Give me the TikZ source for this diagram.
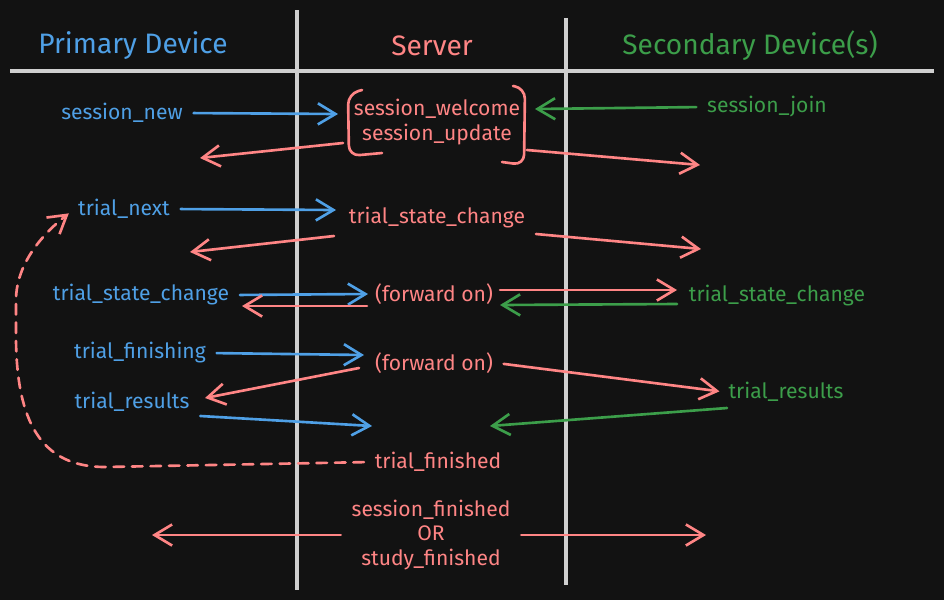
\documentclass[tikz,border=0pt]{standalone}
\usepackage{fontspec}
\setmainfont{Fira Sans}
\usetikzlibrary{arrows.meta, positioning}
\definecolor{bg}{HTML}{121212}
\definecolor{pblue}{HTML}{4FA0E6}
\definecolor{sred}{HTML}{FF8585}
\definecolor{sgreen}{HTML}{3C9E4A}
\definecolor{lane}{HTML}{CFCFCF}
\tikzset{
  msg/.style={font=\fontsize{12}{14.2}\selectfont, inner sep=2pt},
  head/.style={font=\fontsize{16}{19}\selectfont},
  sig/.style={line width=1.5pt, line cap=round,
    -{Straight Barb[length=10pt,width=12pt,line width=1.5pt]}},
  gap/.style={shorten <=4pt},
}
\begin{document}
\begin{tikzpicture}[x=0.02cm, y=-0.02cm]
  \fill[bg] (0,0) rectangle (944,600);
  \useasboundingbox (0,0) rectangle (944,600);

  % lanes
  \draw[lane, line width=2pt] (297,10) -- (297,590);
  \draw[lane, line width=2pt] (566,18) -- (566,585);
  \draw[lane, line width=2pt] (10,71) -- (934,71);
  \node[head, text=pblue]  (primary)   at (133,46) {Primary Device};
  \node[head, text=sred]   (server)    at (432,46) {Server};
  \node[head, text=sgreen] (secondary) at (750,46) {Secondary Device(s)};

  % messages
  \node[msg, text=pblue] (snew)     at (122,113) {session\_new};
  \node[msg, text=sred, align=center] (swelcome) at (437,122) {session\_welcome\\session\_update};
  \node[msg, text=sgreen] (sjoin)   at (767,107) {session\_join};
  \node[msg, text=pblue] (tnext)    at (124,209) {trial\_next};
  \node[msg, text=sred]  (tstate)   at (437,218) {trial\_state\_change};
  \node[msg, text=pblue] (pstate)   at (141,295) {trial\_state\_change};
  \node[msg, text=sred]  (fwdA)     at (434,294) {(forward on)};
  \node[msg, text=sgreen] (sstate)  at (777,296) {trial\_state\_change};
  \node[msg, text=pblue] (pfinish)  at (140,353) {trial\_finishing};
  \node[msg, text=sred]  (fwdB)     at (434,363) {(forward on)};
  \node[msg, text=sgreen] (sresults) at (786,392) {trial\_results};
  \node[msg, text=pblue] (presults) at (132,402) {trial\_results};
  \node[msg, text=sred]  (tfinish)  at (438,462) {trial\_finished};
  \node[msg, text=sred, align=center] (sfinish) at (431,535) {session\_finished\\OR\\study\_finished};

  % bracket round the server reply
  \draw[sred, line width=1.5pt, rounded corners=6pt, line cap=round]
    (362,90) -- (348,94) -- (349,156) -- (382,153);
  \draw[sred, line width=1.5pt, rounded corners=6pt, line cap=round]
    (513,86) -- (525,88) -- (524,165) -- (502,162);

  \coordinate (welIn)   at (338,114);
  \coordinate (welL)    at (343,143);
  \coordinate (welR)    at (527,150);
  \coordinate (joinIn)  at (535,109);
  \coordinate (pOut1)   at (200,158);
  \coordinate (sOut1)   at (700,165);
  \coordinate (stIn)    at (336,210);
  \coordinate (stL)     at (334,236);
  \coordinate (stR)     at (536,234);
  \coordinate (pOut2)   at (190,252);
  \coordinate (sOut2)   at (701,249);
  \coordinate (fwdAin)  at (368,294);
  \coordinate (fwdAback) at (367,306);
  \coordinate (pOut3)   at (242,306);
  \coordinate (fwdAout) at (500,290);
  \coordinate (sIn3)    at (677,290);
  \coordinate (sBack3)  at (677,304);
  \coordinate (fwdAret) at (500,305);
  \coordinate (fwdBin)  at (364,355);
  \coordinate (fwdBl)   at (359,368);
  \coordinate (pOut4)   at (205,398);
  \coordinate (resIn)   at (372,426);
  \coordinate (sresOut) at (727,408);
  \coordinate (resBack) at (490,426);
  \coordinate (pOut5)   at (152,535);
  \coordinate (sOut5)   at (706,535);

  % primary -> server
  \draw[sig, gap, pblue] (snew.east) -- (welIn);
  \draw[sig, gap, pblue] (tnext.east) -- (stIn);
  \draw[sig, gap, pblue] (pstate.east) -- (fwdAin);
  \draw[sig, gap, pblue] (pfinish.east) -- (fwdBin);
  \draw[sig, gap, pblue] (presults.south east) -- (resIn);
  % secondary -> server
  \draw[sig, gap, sgreen] (sjoin.west) -- (joinIn);
  \draw[sig, sgreen] (sBack3) -- (fwdAret);
  \draw[sig, sgreen] (sresOut) -- (resBack);
  % server -> devices
  \draw[sig, sred] (welL) -- (pOut1);
  \draw[sig, sred] (welR) -- (sOut1);
  \draw[sig, sred] (stL) -- (pOut2);
  \draw[sig, sred] (stR) -- (sOut2);
  \draw[sig, sred] (fwdAback) -- (pOut3);
  \draw[sig, sred] (fwdAout) -- (sIn3);
  \draw[sig, sred] (fwdBl) -- (pOut4);
  \draw[sig, gap, sred, shorten >=3pt] (fwdB.east) -- (sresults.west);
  \draw[sig, gap, sred] (sfinish.west) -- (pOut5);
  \draw[sig, gap, sred] (sfinish.east) -- (sOut5);

  % loop back to the next trial
  \draw[sig, gap, sred, shorten >=4pt, dash pattern=on 6pt off 4.5pt] (tfinish.west) -- (105,467)
    .. controls (40,467) and (17,420) .. (16,340) -- (16,300)
    .. controls (16,270) and (35,240) .. (tnext.west);
\end{tikzpicture}
\end{document}
